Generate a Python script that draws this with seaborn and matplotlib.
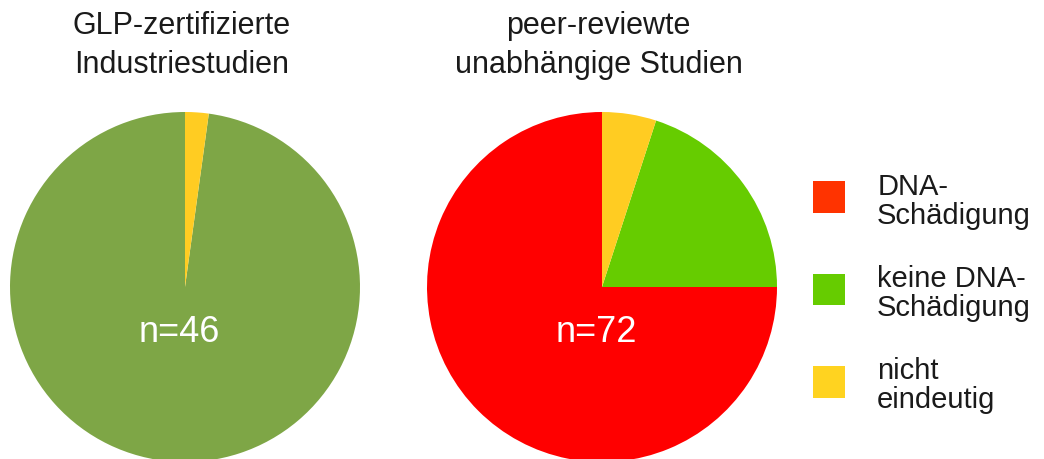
import numpy as np
import seaborn as sns
import matplotlib.pyplot as plt
from matplotlib.patches import Patch
from matplotlib.legend_handler import HandlerPatch

# Data
categories = ["DNA-\nSchädigung", "keine DNA-\nSchädigung", "nicht\neindeutig"]
glp_values = [0, 45, 1]          # GLP-zertifizierte Industriestudien (n=46)
peer_values = [75, 20, 5]        # peer-reviewte unabhängige Studien (n=72), in %
titles = ["GLP-zertifizierte\nIndustriestudien", "peer-reviewte\nunabhängige Studien"]
n_labels = ["n=46", "n=72"]

glp_colors = ["#ff0000", "#7ea646", "#ffcc22"]
peer_colors = ["#ff0000", "#66cc00", "#ffcc22"]
legend_colors = ["#ff3300", "#66cc00", "#ffd320"]

sns.set_theme(style="white")
plt.rcParams['font.family'] = ['Liberation Sans', 'DejaVu Sans']

W, H = 1044, 459
fig = plt.figure(figsize=(W / 100, H / 100), dpi=100)

def px_axes(left, bottom, size):
    return fig.add_axes([left / W, bottom / H, size / W, size / H])

ax1 = px_axes(10, -3, 350)
ax2 = px_axes(427, -3, 350)

for ax, vals, cols, title, nl in [(ax1, glp_values, glp_colors, titles[0], n_labels[0]),
                                  (ax2, peer_values, peer_colors, titles[1], n_labels[1])]:
    ax.pie(vals, colors=cols, startangle=90, counterclock=True, radius=1,
           wedgeprops=dict(linewidth=0))
    ax.set_xlim(-1, 1)
    ax.set_ylim(-1, 1)
    ax.set_aspect("equal")
    ax.axis("off")
    ax.text(-0.03, -0.313, nl, color="white", fontsize=26, ha="center", va="baseline")
    ax.text(-0.02, 1.38, title, color="#1a1a1a", fontsize=22, ha="center", va="center",
            linespacing=1.42)

# squares sit a bit above the text centre, like in the original
handles = [Patch(facecolor=c, edgecolor="none") for c in legend_colors]
leg = fig.legend(handles, categories, loc="upper left", bbox_to_anchor=(813 / W, 1 - 173 / H),
                 frameon=False, fontsize=21, handlelength=1.1, handleheight=1.92,
                 handletextpad=1.1, labelspacing=1.2, borderaxespad=0, borderpad=0,
                 handler_map={Patch: HandlerPatch(ypad=0.4)})
for t in leg.get_texts():
    t.set_linespacing(1.05)
    t.set_color("#1a1a1a")

fig.savefig("out.png", dpi=100)
